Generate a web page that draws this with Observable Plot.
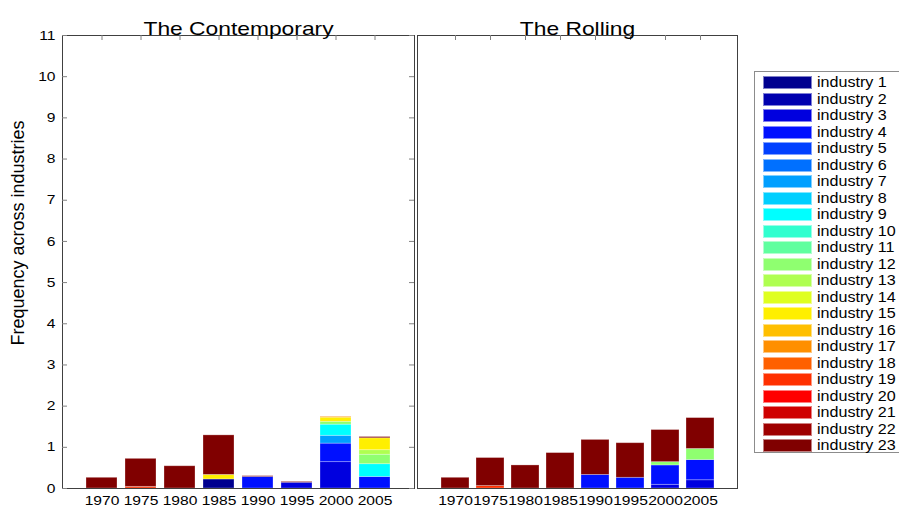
<!DOCTYPE html>
<html>
<head>
<meta charset="utf-8">
<script src="https://cdn.jsdelivr.net/npm/d3@7"></script>
<script src="https://cdn.jsdelivr.net/npm/@observablehq/plot@0.6"></script>
<style>
  html, body { margin: 0; padding: 0; background: #fff; overflow: hidden; }
  #root { position: relative; width: 899px; height: 508px; overflow: hidden; font-family: "Liberation Sans", Arial, sans-serif; }
  #root svg { position: absolute; top: 0; }
  #legend { position: absolute; left: 754px; top: 71px; width: 170px; height: 380px; border: 1px solid #8c8c8c; box-sizing: content-box; background: #fff; }
  .row { position: absolute; left: 8px; height: 12px; }
  .sw { position: absolute; left: 0; top: 0; width: 47px; height: 11px; border: 1px solid rgba(255,255,255,0.5); }
  .lb { position: absolute; left: 54px; top: -2px; font-size: 14px; line-height: 16px; color: #000; white-space: nowrap; transform: scaleX(1.15); transform-origin: 0 50%; }
</style>
</head>
<body>
<div id="root"></div>
<script>
// ---- data ----
const years = ["1970", "1975", "1980", "1985", "1990", "1995", "2000", "2005"];
const yTicks = [0, 1, 2, 3, 4, 5, 6, 7, 8, 9, 10, 11];
const industryIds = [1, 2, 3, 4, 5, 6, 7, 8, 9, 10, 11, 12, 13, 14, 15, 16, 17, 18, 19, 20, 21, 22, 23];
const industryNames = ["industry 1", "industry 2", "industry 3", "industry 4", "industry 5", "industry 6",
  "industry 7", "industry 8", "industry 9", "industry 10", "industry 11", "industry 12", "industry 13",
  "industry 14", "industry 15", "industry 16", "industry 17", "industry 18", "industry 19", "industry 20",
  "industry 21", "industry 22", "industry 23"];
const jetColors = ["#00008f", "#0000af", "#0000df", "#0010ff", "#0040ff", "#0070ff", "#009fff", "#00cfff",
  "#00ffff", "#30ffcf", "#60ff9f", "#8fff70", "#afff50", "#dfff20", "#ffef00", "#ffbf00", "#ff8f00",
  "#ff6000", "#ff3000", "#ff0000", "#cf0000", "#9f0000", "#800000"];
const titles = ["The Contemporary", "The Rolling"];
const yLabel = "Frequency across industries";

// [year, industry, value]
const contemporary = [
  ["1970", 23, 0.26],
  ["1975", 19, 0.04], ["1975", 23, 0.68],
  ["1980", 23, 0.54],
  ["1985", 1, 0.22], ["1985", 15, 0.11], ["1985", 23, 0.96],
  ["1990", 4, 0.28], ["1990", 23, 0.02],
  ["1995", 3, 0.14], ["1995", 23, 0.02],
  ["2000", 3, 0.64], ["2000", 4, 0.45], ["2000", 7, 0.19], ["2000", 9, 0.27], ["2000", 12, 0.07], ["2000", 15, 0.10], ["2000", 17, 0.02],
  ["2005", 4, 0.28], ["2005", 9, 0.31], ["2005", 12, 0.23], ["2005", 13, 0.11], ["2005", 15, 0.29], ["2005", 23, 0.03]
];
const rolling = [
  ["1970", 23, 0.26],
  ["1975", 19, 0.06], ["1975", 23, 0.68],
  ["1980", 23, 0.56],
  ["1985", 23, 0.86],
  ["1990", 4, 0.33], ["1990", 23, 0.85],
  ["1995", 4, 0.26], ["1995", 23, 0.84],
  ["2000", 3, 0.09], ["2000", 4, 0.47], ["2000", 12, 0.08], ["2000", 23, 0.78],
  ["2005", 3, 0.20], ["2005", 4, 0.49], ["2005", 12, 0.27], ["2005", 23, 0.75]
];

const toRows = (arr) => arr.map(([year, industry, value]) => ({year, industry, value}));
const STRETCH = 1.2;
const TICK = 5;

// widen horizontal texts (the reference is horizontally stretched); must run after insertion
function stretchText(svg, k) {
  svg.querySelectorAll("text").forEach((t) => {
    if (t.textContent === yLabel) return;
    const len = t.getComputedTextLength();
    if (len > 0) {
      t.setAttribute("textLength", (len * k).toFixed(2));
      t.setAttribute("lengthAdjust", "spacingAndGlyphs");
    }
  });
}

function panel(data, {width, marginLeft, marginRight, title, showY}) {
  const fw = width - marginLeft - marginRight;
  const fh = 508 - 35 - 20;
  const marks = [
    Plot.barY(toRows(data), Plot.stackY({
      x: "year", y: "value", z: "industry", fill: "industry", order: "z",
      stroke: "#ffffff", strokeOpacity: 0.35, strokeWidth: 0.8
    })),
    Plot.frame({stroke: "#404040", strokeWidth: 1}),
    Plot.axisX({anchor: "bottom", tickSize: 0, tickPadding: 7, fontSize: 13, label: null}),
    // inward ticks along the top edge
    Plot.ruleX(years, {x: (d) => d, insetBottom: fh - TICK, stroke: "#808080"}),
    Plot.text([title], {frameAnchor: "top", dy: -14, fontSize: 19, fill: "#000"})
  ];
  if (showY) {
    marks.push(
      Plot.axisY({anchor: "left", ticks: yTicks, tickSize: 0, tickPadding: 7, fontSize: 13, label: null}),
      Plot.ruleY(yTicks, {y: (d) => d, insetRight: fw - TICK, stroke: "#808080"}),
      Plot.ruleY(yTicks, {y: (d) => d, insetLeft: fw - TICK, stroke: "#808080"}),
      Plot.text([yLabel], {frameAnchor: "left", rotate: -90, textAnchor: "middle", dx: -44, dy: -29, fontSize: 18, fill: "#000"})
    );
  }
  const yOpts = {domain: [0, 11], label: null};
  if (!showY) yOpts.axis = null;
  return Plot.plot({
    width, height: 508, marginTop: 35, marginBottom: 20, marginLeft, marginRight,
    style: {fontFamily: "'Liberation Sans', Arial, sans-serif", fontSize: "13px", color: "#000", background: "transparent"},
    x: {type: "band", domain: years, paddingInner: 0.2, paddingOuter: 0.6, label: null},
    y: yOpts,
    color: {type: "ordinal", domain: industryIds, range: jetColors},
    marks
  });
}

const root = document.getElementById("root");
const left = panel(contemporary, {width: 416, marginLeft: 62, marginRight: 2, title: titles[0], showY: true});
left.style.left = "0px";
root.appendChild(left);
const right = panel(rolling, {width: 330, marginLeft: 1, marginRight: 9, title: titles[1], showY: false});
right.style.left = "416px";
root.appendChild(right);

stretchText(left, STRETCH);
stretchText(right, STRETCH);

// legend
const legend = document.createElement("div");
legend.id = "legend";
industryNames.forEach((name, i) => {
  const row = document.createElement("div");
  row.className = "row";
  row.style.top = (4 + i * 16.5) + "px";
  const sw = document.createElement("div");
  sw.className = "sw";
  sw.style.background = jetColors[i];
  const lb = document.createElement("div");
  lb.className = "lb";
  lb.textContent = name;
  row.appendChild(sw); row.appendChild(lb);
  legend.appendChild(row);
});
root.appendChild(legend);
</script>
</body>
</html>
